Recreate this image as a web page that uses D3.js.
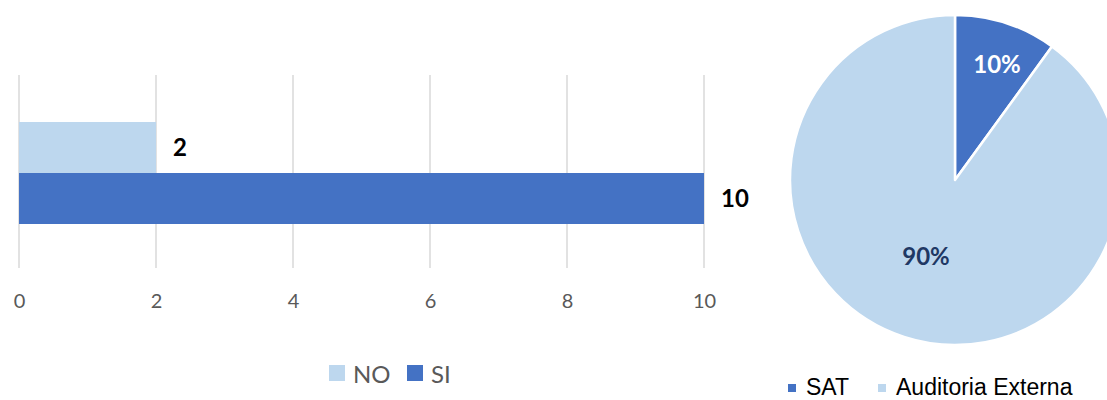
<!DOCTYPE html>
<html><head><meta charset="utf-8">
<script src="https://cdn.jsdelivr.net/npm/d3@7"></script>
<style>body{margin:0;background:#fff}svg{display:block}</style>
</head><body>
<svg id="c" width="1107" height="400"></svg>
<script>
const barCategories = ["NO", "SI"];
const barValues = [2, 10];
const barColors = ["#BDD7EE", "#4472C4"];
const xTicks = [0, 2, 4, 6, 8, 10];
const pieCategories = ["SAT", "Auditoria Externa"];
const pieValues = [10, 90];
const pieColors = ["#4472C4", "#BDD7EE"];
const pieLabels = ["10%", "90%"];
const pieLabelColors = ["#FFFFFF", "#1F3864"];

const svg = d3.select("#c");
const font = "Lato, 'Open Sans', sans-serif";

// Bar chart
const x = d3.scaleLinear().domain([0, 10]).range([19, 704]);
const y = d3.scaleBand().domain(barCategories).range([122, 224]).padding(0);
const gTop = 75, gBot = 268;

svg.append("g").selectAll("line").data(xTicks).join("line")
  .attr("x1", d => x(d)).attr("x2", d => x(d))
  .attr("y1", gTop).attr("y2", gBot)
  .attr("stroke", "#D9D9D9").attr("stroke-width", 1.5);

const axis = d3.axisBottom(x).tickValues(xTicks).tickSize(0).tickPadding(0);
const ag = svg.append("g").attr("transform", "translate(0,301)").call(axis);
ag.select(".domain").remove();
ag.selectAll("text").attr("font-family", font).attr("font-size", 20).attr("fill", "#595959").attr("dy", "0.36em");

svg.append("g").selectAll("rect").data(barValues).join("rect")
  .attr("x", x(0)).attr("y", (d, i) => y(barCategories[i]))
  .attr("width", d => x(d) - x(0)).attr("height", y.bandwidth())
  .attr("fill", (d, i) => barColors[i]);

svg.append("g").selectAll("text").data(barValues).join("text")
  .attr("x", d => x(d) + 17).attr("y", (d, i) => y(barCategories[i]) + y.bandwidth() / 2)
  .attr("dy", "0.36em").attr("font-family", font).attr("font-weight", "bold")
  .attr("font-size", 24).attr("fill", "#000").text(d => d);

// Bar legend
const lg = svg.append("g");
const legX = [329, 407];
barCategories.forEach((c, i) => {
  lg.append("rect").attr("x", legX[i]).attr("y", 365).attr("width", 16).attr("height", 16).attr("fill", barColors[i]);
  lg.append("text").attr("x", legX[i] + 24).attr("y", 374).attr("dy", "0.36em")
    .attr("font-family", font).attr("font-size", 24).attr("fill", "#595959").text(c);
});

// Pie
const cx = 955, cy = 180, r = 165;
const pie = d3.pie().sort(null).value(d => d)(pieValues);
const arc = d3.arc().innerRadius(0).outerRadius(r);
const pg = svg.append("g").attr("transform", `translate(${cx},${cy})`);
pg.selectAll("path").data(pie).join("path")
  .attr("d", arc).attr("fill", (d, i) => pieColors[i])
  .attr("stroke", "#fff").attr("stroke-width", 2.5).attr("stroke-linejoin", "round");

const labelPos = [[42, -116], [-29, 76]];
pg.selectAll("text.pl").data(pie).join("text")
  .attr("class", "pl")
  .attr("x", (d, i) => labelPos[i][0]).attr("y", (d, i) => labelPos[i][1])
  .attr("text-anchor", "middle").attr("dy", "0.36em")
  .attr("font-family", font).attr("font-weight", "bold").attr("font-size", 24)
  .attr("fill", (d, i) => pieLabelColors[i]).text((d, i) => pieLabels[i]);

// Pie legend
const pl = svg.append("g");
const plX = [788, 878];
pieCategories.forEach((c, i) => {
  pl.append("rect").attr("x", plX[i]).attr("y", 384).attr("width", 8).attr("height", 8).attr("fill", pieColors[i]);
  pl.append("text").attr("x", plX[i] + 18).attr("y", 395)
    .attr("font-family", "'Liberation Sans', Arial, sans-serif").attr("font-size", 23).attr("fill", "#000").text(c);
});
</script>
</body></html>
